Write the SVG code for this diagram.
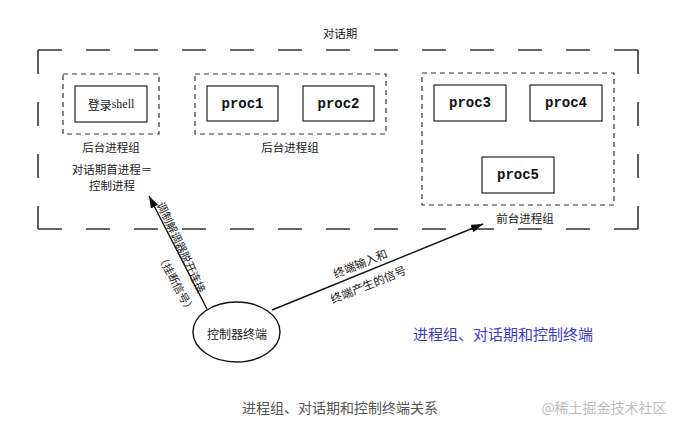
<svg xmlns="http://www.w3.org/2000/svg" width="683" height="424" viewBox="0 0 683 424">
<style>
text{font-family:"Noto Sans CJK SC","Liberation Sans",sans-serif;fill:#222}
.lbl{font-size:11.5px;text-anchor:middle;dominant-baseline:central}
.proc{font-family:"Liberation Mono",monospace;font-weight:bold;font-size:14px;text-anchor:middle;dominant-baseline:central;fill:#111}
.box{fill:#fff;stroke:#222;stroke-width:1.2}
.grp{fill:none;stroke:#333;stroke-width:1.2;stroke-dasharray:5 4}
.outer{fill:none;stroke:#333;stroke-width:1.6;stroke-dasharray:24 24}
.conn{fill:none;stroke:#111;stroke-width:1.4}
</style>
<defs>
<marker id="ah" viewBox="0 0 12 8" refX="12" refY="4" markerWidth="12" markerHeight="8" markerUnits="userSpaceOnUse" orient="auto">
<path d="M0,0 L12,4 L0,8 z" fill="#111"/>
</marker>
</defs>
<rect width="683" height="424" fill="#fff"/>

<g id="session">
<text class="lbl" x="340" y="33">对话期</text>
<line class="outer" x1="38" y1="50" x2="638" y2="50"/>
<line class="outer" x1="38" y1="229" x2="638" y2="229"/>
<line class="outer" x1="38" y1="50" x2="38" y2="229" style="stroke-dasharray:24 28"/>
<line class="outer" x1="638" y1="50" x2="638" y2="229" style="stroke-dasharray:24 28"/>
</g>

<g id="bg-group-1">
<rect class="grp" x="63" y="74" width="96" height="60"/>
<text class="lbl" x="111" y="147">后台进程组</text>
</g>
<g id="login-shell">
<rect class="box" x="75" y="86" width="72" height="36"/>
<text class="lbl" x="111" y="104" style="font-size:12px">登录<tspan style="font-family:'Liberation Serif',serif">shell</tspan></text>
</g>
<g id="session-leader-label">
<text class="lbl" x="112" y="169">对话期首进程＝</text>
<text class="lbl" x="112" y="185">控制进程</text>
</g>

<g id="bg-group-2">
<rect class="grp" x="195" y="74" width="191" height="60"/>
<text class="lbl" x="290" y="147">后台进程组</text>
</g>
<g id="proc1">
<rect class="box" x="207" y="86" width="71" height="35"/>
<text class="proc" x="242.5" y="103.5">proc1</text>
</g>
<g id="proc2">
<rect class="box" x="303" y="86" width="71" height="35"/>
<text class="proc" x="338.5" y="103.5">proc2</text>
</g>

<g id="fg-group">
<rect class="grp" x="422" y="73" width="192" height="132"/>
<text class="lbl" x="525" y="218">前台进程组</text>
</g>
<g id="proc3">
<rect class="box" x="434" y="85" width="72" height="36"/>
<text class="proc" x="470" y="103">proc3</text>
</g>
<g id="proc4">
<rect class="box" x="530" y="85" width="72" height="36"/>
<text class="proc" x="566" y="103">proc4</text>
</g>
<g id="proc5">
<rect class="box" x="482" y="157" width="72" height="36"/>
<text class="proc" x="518" y="175">proc5</text>
</g>

<g id="terminal">
<ellipse cx="236.5" cy="332" rx="43.5" ry="30" fill="#fff" stroke="#111" stroke-width="1.4"/>
<text class="lbl" x="237" y="333" style="font-size:12px">控制器终端</text>
</g>

<g id="connectors">
<line class="conn" x1="207" y1="309" x2="149" y2="196" marker-end="url(#ah)"/>
<text class="lbl" style="font-size:11px" transform="translate(182,247) rotate(65)">调制解调器脱开连接</text>
<text class="lbl" style="font-size:11px" transform="translate(177,283) rotate(62)">（挂断信号）</text>
<line class="conn" x1="272" y1="310" x2="483" y2="224" marker-end="url(#ah)"/>
<text class="lbl" transform="translate(360,263) rotate(-22)">终端输入和</text>
<text class="lbl" transform="translate(368,284) rotate(-22)">终端产生的信号</text>
</g>

<text x="503" y="333" style="font-size:15px;fill:#3a3ad2;text-anchor:middle;dominant-baseline:central">进程组、对话期和控制终端</text>
<text x="340" y="407" style="font-size:14px;fill:#555;text-anchor:middle;dominant-baseline:central">进程组、对话期和控制终端关系</text>
<text x="604" y="407" style="font-size:14px;fill:#bdbdbd;text-anchor:middle;dominant-baseline:central">@稀土掘金技术社区</text>
</svg>
